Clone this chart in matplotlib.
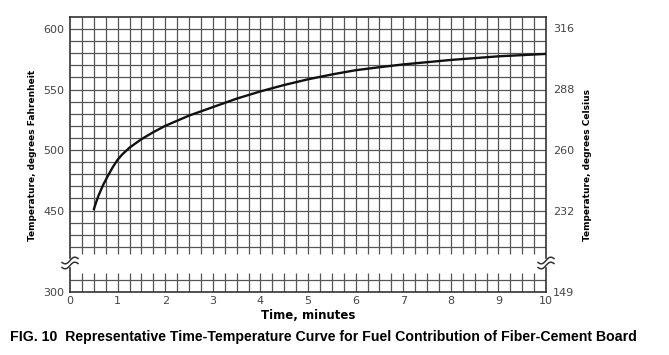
import numpy as np
import matplotlib.pyplot as plt

# curve: time (min) vs temperature (deg F)
time_min = [0.5, 0.55, 0.6, 0.7, 0.8, 0.9, 1.0, 1.1, 1.25, 1.5, 1.75, 2.0,
            2.5, 3.0, 3.5, 4.0, 4.5, 5.0, 5.5, 6.0, 6.5, 7.0, 8.0, 9.0, 10.0]
temp_f = [451, 457, 462.5, 471.5, 479, 486, 492, 496.5, 502, 509, 514.8, 520,
          528.5, 535.5, 542.5, 548.5, 553.8, 558.5, 562.5, 566, 568.5, 570.8, 574.5, 577.5, 579.5]

x_ticks = list(range(0, 11))
f_ticks = [450, 500, 550, 600]
c_ticks = [232, 260, 288, 316]
f_low_tick = [300]
c_low_tick = [149]

W, H = 669, 355
fig = plt.figure(figsize=(W / 100, H / 100), dpi=100)

grid_c = '#555555'
grid_lw = 0.9
spine_c = '#333333'
tick_c = '#444444'


def f2c(f):
    return (f - 32) * 5 / 9


def c2f(c):
    return c * 9 / 5 + 32


left = 70 / W
width = 476 / W
# upper part of the broken axis
ax = fig.add_axes([left, 1 - 258 / H, width, 241 / H])
ax.set_xlim(0, 10)
ax.set_ylim(410.8, 610)
ax.vlines(np.arange(0.25, 10, 0.25), 414, 610, color=grid_c, lw=grid_lw)
ax.hlines(np.arange(420, 610, 10), 0, 10, color=grid_c, lw=grid_lw)
ax.plot(time_min, temp_f, color='#111111', lw=1.7, solid_capstyle='round',
        solid_joinstyle='round', zorder=5)
ax.spines['bottom'].set_visible(False)
for s in ['left', 'right', 'top']:
    ax.spines[s].set_color(spine_c)
    ax.spines[s].set_linewidth(1.2)
ax.set_xticks([])
ax.set_yticks(f_ticks)
ax.tick_params(axis='y', length=0, pad=4, labelsize=8, labelcolor=tick_c)
sec = ax.secondary_yaxis('right', functions=(f2c, c2f))
sec.set_yticks(c_ticks)
sec.tick_params(length=0, pad=5, labelsize=8, labelcolor=tick_c)
sec.spines['right'].set_visible(False)

# lower part of the broken axis
ax2 = fig.add_axes([left, 1 - 292 / H, width, 24 / H])
ax2.set_xlim(0, 10)
ax2.set_ylim(300, 319.8)
ax2.vlines(np.arange(0.25, 10, 0.25), 300, 315.7, color=grid_c, lw=grid_lw)
ax2.hlines([310], 0, 10, color=grid_c, lw=grid_lw)
ax2.spines['top'].set_visible(False)
for s in ['left', 'right', 'bottom']:
    ax2.spines[s].set_color(spine_c)
    ax2.spines[s].set_linewidth(1.2)
ax2.set_xticks(x_ticks)
ax2.set_yticks(f_low_tick)
ax2.tick_params(length=0, pad=4, labelsize=8, labelcolor=tick_c)
ax2.tick_params(axis='x', pad=3)
sec2 = ax2.secondary_yaxis('right', functions=(f2c, c2f))
sec2.set_yticks(c_low_tick)
sec2.tick_params(length=0, pad=5, labelsize=8, labelcolor=tick_c)
sec2.spines['right'].set_visible(False)
ax2.set_xlabel('Time, minutes', fontsize=8.5, fontweight='bold', labelpad=2)

# break marks (two small waves on each side)
wx = np.linspace(-8, 8, 40)
for xc in (70, 546):
    for dy in (-2.5, 2.5):
        wy = 263 + dy - 2.2 * np.sin(wx / 8 * np.pi) - wx * 0.25
        fig.add_artist(plt.Line2D((xc + wx) / W, 1 - wy / H, color=spine_c, lw=1.1))

fig.text(33 / W, 1 - 155 / H, 'Temperature, degrees Fahrenheit', rotation=90,
         ha='center', va='center', fontsize=6.5, fontweight='bold')
fig.text(588 / W, 1 - 165 / H, 'Temperature, degrees Celsius', rotation=90,
         ha='center', va='center', fontsize=6.5, fontweight='bold')
fig.text(10 / W, 1 - 337 / H,
         'FIG. 10  Representative Time-Temperature Curve for Fuel Contribution of Fiber-Cement Board',
         ha='left', va='center', fontsize=10.2, fontweight='bold', family='Liberation Sans')

fig.savefig('out.png', dpi=100)
